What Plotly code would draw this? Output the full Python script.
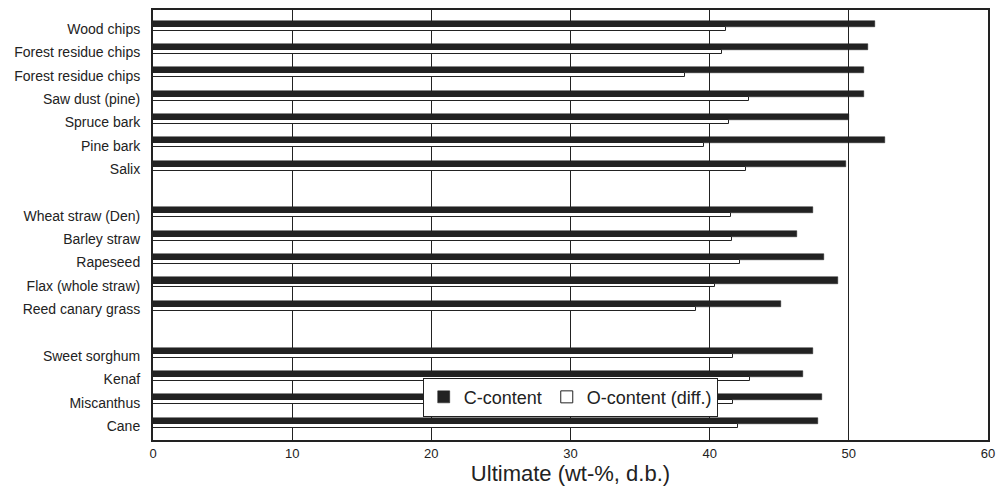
import plotly.graph_objects as go

# Groups of biomass samples (a blank slot separates the groups)
woody = ["Wood chips", "Forest residue chips", "Forest residue chips", "Saw dust (pine)",
         "Spruce bark", "Pine bark", "Salix"]
woody_c = [51.9, 51.4, 51.1, 51.1, 50.0, 52.6, 49.8]
woody_o = [41.2, 40.9, 38.2, 42.8, 41.4, 39.6, 42.6]

herbaceous = ["Wheat straw (Den)", "Barley straw", "Rapeseed", "Flax (whole straw)", "Reed canary grass"]
herbaceous_c = [47.4, 46.3, 48.2, 49.2, 45.1]
herbaceous_o = [41.5, 41.6, 42.2, 40.4, 39.0]

energy = ["Sweet sorghum", "Kenaf", "Miscanthus", "Cane"]
energy_c = [47.4, 46.7, 48.1, 47.8]
energy_o = [41.7, 42.9, 41.7, 42.0]

x_ticks = [0, 10, 20, 30, 40, 50, 60]

groups = [(woody, woody_c, woody_o), (herbaceous, herbaceous_c, herbaceous_o), (energy, energy_c, energy_o)]
labels, pos, c_vals, o_vals = [], [], [], []
slot = 0
for names, cv, ov in groups:
    for n, c, o in zip(names, cv, ov):
        labels.append(n)
        pos.append(slot)
        c_vals.append(c)
        o_vals.append(o)
        slot += 1
    slot += 1  # blank slot between groups

fig = go.Figure()
fig.add_trace(go.Bar(
    x=c_vals, y=pos, orientation="h", name="C-content",
    marker=dict(color="#222222", line=dict(color="#222222", width=0.5)),
    width=0.26, offset=-0.36,
))
fig.add_trace(go.Bar(
    x=o_vals, y=pos, orientation="h", name="O-content (diff.)",
    marker=dict(color="white", line=dict(color="#222222", width=1)),
    width=0.17, offset=-0.10,
))

fig.update_layout(
    width=998, height=484,
    margin=dict(l=145, r=18, t=2, b=52, autoexpand=False),
    paper_bgcolor="white", plot_bgcolor="white",
    font=dict(family="Liberation Sans, Arial, sans-serif", color="#222222"),
    showlegend=True,
    legend=dict(
        orientation="h", x=0.323, y=0.145, xanchor="left", yanchor="top",
        bgcolor="white", bordercolor="#222222", borderwidth=1,
        font=dict(size=18, family="Liberation Sans, Arial, sans-serif"),
        itemwidth=30, traceorder="normal",
    ),
    bargap=0,
)
fig.update_xaxes(
    range=[0, 60], tickvals=x_ticks, ticks="",
    showgrid=True, gridcolor="#222222", gridwidth=1,
    showline=True, linecolor="#222222", linewidth=2, mirror=True,
    zeroline=False,
    tickfont=dict(size=13),
    title=dict(text="Ultimate (wt-%, d.b.)", standoff=4,
               font=dict(size=22)),
)
fig.update_yaxes(
    range=[17.6, -0.81], tickvals=pos, ticktext=labels, ticks="",
    showgrid=False, zeroline=False,
    showline=True, linecolor="#222222", linewidth=2, mirror=True,
    tickfont=dict(size=14),
    ticklabelstandoff=8,
)

fig.write_html("out.html")
